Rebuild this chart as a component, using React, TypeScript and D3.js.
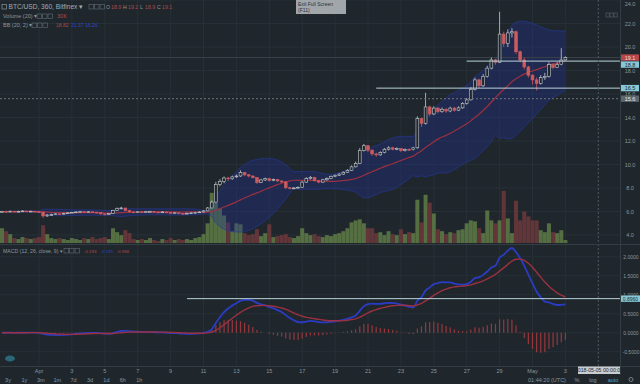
import React from "react";
import * as d3 from "d3";

const closes = [
  6.00,5.98,6.02,5.97,6.01,6.04,5.99,6.02,5.98,5.95,
  5.62,5.70,5.74,5.80,5.78,5.84,5.88,5.93,5.96,5.99,
  5.95,5.98,5.94,5.90,5.80,5.74,5.82,6.08,6.26,6.30,
  6.08,5.96,5.92,5.97,5.94,5.98,6.00,5.95,5.93,5.96,
  5.90,5.86,5.89,5.84,5.80,5.85,5.88,5.92,5.96,6.05,
  6.30,6.80,8.30,8.55,8.85,8.78,8.95,9.02,9.32,9.12,
  9.02,8.88,8.48,8.68,8.80,8.64,8.72,8.60,8.52,8.02,
  7.96,8.00,8.06,8.50,8.80,8.90,8.62,8.50,8.70,8.80,
  8.98,9.08,9.18,9.34,9.50,9.80,10.10,11.20,11.60,11.22,
  10.90,10.82,11.02,11.30,11.42,11.30,11.36,11.18,11.28,11.26,
  11.42,13.90,13.50,14.90,14.30,14.80,14.50,14.70,14.55,14.80,
  14.62,14.82,15.20,15.50,16.40,17.20,16.70,17.50,18.20,18.90,
  18.70,21.10,20.30,21.20,21.30,19.60,18.90,18.30,17.60,17.20,
  16.90,17.40,17.50,18.50,18.25,18.50,18.90,19.10
];
const highs = [
  6.05,6.06,6.08,6.05,6.07,6.10,6.06,6.08,6.05,6.02,
  5.98,5.78,5.82,5.86,5.85,5.90,5.94,5.98,6.02,6.05,
  6.03,6.04,6.01,5.97,5.92,5.84,5.88,6.14,6.34,6.40,
  6.32,6.10,6.00,6.03,6.01,6.04,6.06,6.03,5.99,6.02,
  5.98,5.93,5.95,5.92,5.88,5.91,5.94,5.98,6.02,6.10,
  6.38,6.92,8.52,8.75,8.98,8.95,9.05,9.15,9.50,9.36,
  9.20,9.08,8.92,8.78,8.88,8.85,8.80,8.76,8.66,8.56,
  8.10,8.08,8.14,8.60,8.92,9.02,8.95,8.70,8.78,8.90,
  9.06,9.16,9.28,9.42,9.60,9.92,10.25,11.40,11.75,11.65,
  11.30,11.00,11.12,11.40,11.55,11.50,11.45,11.40,11.36,11.38,
  11.50,14.10,14.00,16.10,15.00,14.95,14.90,14.85,14.80,14.92,
  14.90,14.95,15.30,15.65,16.60,17.40,17.30,17.70,18.40,19.10,
  19.00,23.00,21.30,21.50,21.60,21.40,19.70,19.10,18.40,17.70,
  17.40,17.60,17.80,18.70,18.60,18.70,19.90,19.20
];
const lows = [
  5.92,5.93,5.95,5.92,5.94,5.97,5.93,5.96,5.92,5.88,
  5.45,5.55,5.62,5.70,5.71,5.75,5.80,5.85,5.89,5.92,
  5.89,5.91,5.88,5.83,5.72,5.66,5.70,5.80,6.05,6.18,
  6.02,5.90,5.86,5.89,5.88,5.91,5.93,5.90,5.86,5.89,
  5.84,5.78,5.81,5.76,5.73,5.77,5.80,5.84,5.88,5.93,
  6.02,6.28,6.75,8.15,8.40,8.60,8.70,8.85,8.95,9.00,
  8.90,8.80,8.35,8.42,8.60,8.55,8.58,8.52,8.42,7.90,
  7.88,7.90,7.95,8.00,8.45,8.72,8.55,8.40,8.45,8.62,
  8.75,8.92,9.02,9.12,9.30,9.45,9.75,10.05,11.10,11.05,
  10.75,10.65,10.75,10.95,11.20,11.20,11.22,11.05,11.10,11.15,
  11.20,11.35,13.20,13.40,14.10,14.20,14.35,14.40,14.40,14.45,
  14.50,14.55,14.75,15.10,15.45,16.30,16.50,16.60,17.40,18.10,
  18.50,18.65,20.00,20.00,20.80,19.40,18.70,18.10,17.40,16.80,
  16.30,16.80,17.20,17.40,18.10,18.20,18.45,18.85
];
const volumes = [
  150,120,90,50,40,60,50,40,50,60,
  180,90,50,40,50,40,30,50,40,30,
  50,40,60,40,50,60,40,150,110,80,
  130,100,40,30,40,30,50,30,20,40,
  30,50,30,40,30,40,30,50,60,90,
  200,510,410,350,280,210,120,200,190,100,
  80,90,140,70,100,190,60,70,80,90,
  60,50,70,150,100,80,90,70,60,80,
  70,90,100,120,150,210,230,240,200,150,
  150,100,110,80,120,90,80,140,90,110,
  100,440,210,490,410,300,140,120,90,110,
  100,130,140,200,230,220,150,100,330,230,
  200,230,530,250,100,430,230,320,270,230,
  230,130,110,200,110,100,130,30
];
const firstOpen = 6.0;
const priceTicks = [4, 6, 8, 10, 12, 14, 16, 18, 20, 22, 24];
const macdTicks = [-0.5, 0, 0.5, 1, 1.5, 2];
const rangeButtons = ["3y", "1y", "3m", "1m", "7d", "3d", "1d", "6h", "1h"];
const priceLevels = [18.8, 16.5];
const priceLevelStarts = [Date.UTC(2018, 3, 27, 0), Date.UTC(2018, 3, 21, 12)];
const macdLevel = 0.896;
const macdLevelStart = Date.UTC(2018, 3, 10, 0);
const crossPrice = 15.6;
const crossTime = Date.UTC(2018, 4, 5, 0);

const BG = "#1f272d";
const TXT = "#8b959b";
const FONT = "'Liberation Sans', Arial, sans-serif";

function ema(arr: number[], n: number) {
  const k = 2 / (n + 1);
  let e = arr[0];
  return arr.map((v, i) => (i === 0 ? e : (e = v * k + e * (1 - k))));
}

export default function App() {
  const n = closes.length;
  const DAY = 86400e3;
  const apr1 = Date.UTC(2018, 3, 1);
  const pxPerDay = 16.45;
  const t0 = Date.UTC(2018, 2, 29, 18);
  const times = d3.range(n).map((i) => new Date(t0 + i * 6 * 3600e3));
  const opens = closes.map((c, i) => (i === 0 ? firstOpen : closes[i - 1]));

  const x = d3
    .scaleUtc()
    .domain([new Date(apr1 - (39 / pxPerDay) * DAY), new Date(apr1 + ((620 - 39) / pxPerDay) * DAY)])
    .range([0, 620]);
  const y = d3.scaleLinear().domain([4, 24]).range([235, 0]);
  const yv = d3.scaleLinear().domain([0, 2400]).range([243, 7]);
  const ym = d3.scaleLinear().domain([-0.5, 2]).range([351.7, 256.7]);

  const bb = closes.map((_, i) => {
    const s = closes.slice(Math.max(0, i - 19), i + 1);
    const m = d3.mean(s) as number;
    const sd = Math.sqrt(d3.mean(s, (v) => (v - m) ** 2) as number);
    return { m, u: m + 2 * sd, l: m - 2 * sd };
  });
  const e12 = ema(closes, 12);
  const e26 = ema(closes, 26);
  const macd = closes.map((_, i) => e12[i] - e26[i]);
  const sig = ema(macd, 9);
  const hist = macd.map((v, i) => v - sig[i]);

  const xi = (i: number) => x(times[i]);
  const bandArea = d3
    .area<number>()
    .x((i) => xi(i))
    .y0((i) => y(bb[i].l))
    .y1((i) => y(bb[i].u))
    .curve(d3.curveMonotoneX);
  const lineOf = (f: (i: number) => number, sc: (v: number) => number) =>
    d3
      .line<number>()
      .x((i) => xi(i))
      .y((i) => sc(f(i)))
      .curve(d3.curveMonotoneX);
  const idx = d3.range(n);

  const dayTicks = d3
    .utcDay.range(new Date(apr1), new Date(Date.UTC(2018, 4, 4)))
    .filter((_, i) => i % 2 === 0);
  const fmtTick = (d: Date) => (d.getUTCDate() === 1 ? d3.utcFormat("%b")(d) : String(d.getUTCDate()));

  const last = n - 1;
  const lastClose = closes[last];

  const labels: { v: number; text: string; fill: string; color: string }[] = [
    { v: lastClose, text: lastClose.toFixed(1), fill: "#b8474c", color: "#f3dada" },
    { v: priceLevels[0], text: priceLevels[0].toFixed(1), fill: "#86c8d8", color: "#1c2a30" },
    { v: priceLevels[1], text: priceLevels[1].toFixed(1), fill: "#86c8d8", color: "#1c2a30" },
    { v: crossPrice, text: crossPrice.toFixed(1), fill: "#5d666d", color: "#e6e9eb" },
  ];
  let prev = -100;
  const placed = labels.map((l) => {
    const yy = Math.max(y(l.v), prev + 7);
    prev = yy;
    return { ...l, yy };
  });

  const candleW = 2.8;

  return (
    <svg
      width={640}
      height={384}
      style={{ position: "fixed", left: 0, top: 0, background: BG, fontFamily: FONT }}
    >
      <rect x={0} y={0} width={640} height={384} fill={BG} />
      {dayTicks.map((d, i) => (
        <line key={"vg" + i} x1={x(d)} x2={x(d)} y1={0} y2={366} stroke="#273037" strokeWidth={1} />
      ))}
      {priceTicks.map((p, i) => (
        <line key={"hg" + i} x1={0} x2={620} y1={y(p)} y2={y(p)} stroke="#263037" strokeWidth={1} />
      ))}
      {macdTicks.map((p, i) => (
        <line key={"mg" + i} x1={0} x2={620} y1={ym(p)} y2={ym(p)} stroke="#263037" strokeWidth={1} />
      ))}

      {idx.map((i) => (
        <rect
          key={"v" + i}
          x={xi(i) - 2}
          width={4}
          y={yv(volumes[i])}
          height={243 - yv(volumes[i])}
          fill={closes[i] >= opens[i] ? "#5f7d47" : "#6e3a3c"}
          opacity={0.85}
        />
      ))}

      <path d={bandArea(idx) || ""} fill="#22339a" opacity={0.32} />
      <path d={lineOf((i) => bb[i].u, y)(idx) || ""} fill="none" stroke="#26389e" strokeWidth={1} opacity={0.6} />
      <path d={lineOf((i) => bb[i].l, y)(idx) || ""} fill="none" stroke="#26389e" strokeWidth={1} opacity={0.6} />
      <path d={lineOf((i) => bb[i].m, y)(idx) || ""} fill="none" stroke="#9b3040" strokeWidth={1.2} />

      <line x1={0} x2={620} y1={y(lastClose)} y2={y(lastClose)} stroke="#3a4249" strokeWidth={1} />

      {idx.map((i) => {
        const up = closes[i] >= opens[i];
        const col = up ? "#c5cbcf" : "#cc5b60";
        const hi = Math.max(highs[i], opens[i], closes[i]);
        const lo = Math.min(lows[i], opens[i], closes[i]);
        const top = y(Math.max(opens[i], closes[i]));
        const bot = y(Math.min(opens[i], closes[i]));
        const cx = xi(i);
        return (
          <g key={"c" + i}>
            <line x1={cx} x2={cx} y1={y(hi)} y2={y(lo)} stroke={col} strokeWidth={0.8} />
            <rect
              x={cx - candleW / 2}
              y={top}
              width={candleW}
              height={Math.max(0.8, bot - top)}
              fill={up ? BG : col}
              stroke={col}
              strokeWidth={0.6}
            />
          </g>
        );
      })}

      {priceLevels.map((p, k) => (
        <line
          key={"pl" + k}
          x1={x(new Date(priceLevelStarts[k]))}
          x2={620}
          y1={y(p)}
          y2={y(p)}
          stroke="#b9d3da"
          strokeWidth={1}
        />
      ))}

      <line x1={0} x2={620} y1={y(crossPrice)} y2={y(crossPrice)} stroke="#6b747b" strokeDasharray="2,2" />
      <line x1={x(new Date(crossTime))} x2={x(new Date(crossTime))} y1={0} y2={366} stroke="#4f585f" strokeDasharray="2,2" />

      {idx.map((i) => (
        <rect
          key={"h" + i}
          x={xi(i) - 0.6}
          width={1.2}
          y={Math.min(ym(0), ym(hist[i]))}
          height={Math.abs(ym(hist[i]) - ym(0))}
          fill="#96383e"
        />
      ))}
      <path d={lineOf((i) => macd[i], ym)(idx) || ""} fill="none" stroke="#2a3cc4" strokeWidth={1.8} />
      <path d={lineOf((i) => sig[i], ym)(idx) || ""} fill="none" stroke="#9a3040" strokeWidth={1.4} />
      <line x1={x(new Date(macdLevelStart))} x2={620} y1={ym(macdLevel)} y2={ym(macdLevel)} stroke="#b9d3da" strokeWidth={1} />

      <line x1={0} x2={640} y1={244.5} y2={244.5} stroke="#333d44" strokeWidth={1} />
      <line x1={0} x2={640} y1={366.5} y2={366.5} stroke="#333d44" strokeWidth={1} />
      <line x1={620.5} x2={620.5} y1={0} y2={375} stroke="#333d44" strokeWidth={1} />

      {priceTicks.map((p, i) => (
        <text key={"pt" + i} x={630} y={Math.max(5.5, y(p) + 2)} fontSize={5.5} fill={TXT} textAnchor="middle">
          {p.toFixed(1)}
        </text>
      ))}
      {placed.map((l, i) => (
        <g key={"lb" + i}>
          <rect x={621} y={l.yy - 3.2} width={18} height={6.4} fill={l.fill} />
          <text x={630} y={l.yy + 2} fontSize={5.5} fill={l.color} textAnchor="middle">
            {l.text}
          </text>
        </g>
      ))}
      {macdTicks.map((p, i) => (
        <text key={"mt" + i} x={631} y={ym(p) + 2} fontSize={5} fill={TXT} textAnchor="middle">
          {p.toFixed(4)}
        </text>
      ))}
      <rect x={621} y={ym(macdLevel) - 3.2} width={19} height={6.4} fill="#86c8d8" />
      <text x={630.5} y={ym(macdLevel) + 2} fontSize={5} fill="#1c2a30" textAnchor="middle">
        {macdLevel.toFixed(4)}
      </text>

      {dayTicks.map((d, i) => (
        <text key={"tt" + i} x={x(d)} y={372.5} fontSize={5.5} fill={TXT} textAnchor="middle">
          {fmtTick(d)}
        </text>
      ))}
      <rect x={578} y={366.5} width={42} height={7.5} fill="#c9cdd0" />
      <text x={599} y={372.3} fontSize={5.2} fill="#1f272d" textAnchor="middle">
        {d3.utcFormat("%Y-%m-%d %H:%M:%S")(new Date(crossTime))}
      </text>

      {rangeButtons.map((b, i) => (
        <text key={"rb" + i} x={8 + i * 16.4} y={381.5} fontSize={5.5} fill={TXT} textAnchor="middle">
          {b}
        </text>
      ))}
      <text x={547} y={381.5} fontSize={5.5} fill={TXT} textAnchor="middle">01:44:20 (UTC)</text>
      <text x={577} y={381.5} fontSize={5.5} fill={TXT} textAnchor="middle">%</text>
      <text x={593} y={381.5} fontSize={5.5} fill={TXT} textAnchor="middle">log</text>
      <text x={613} y={381.5} fontSize={5.5} fill="#4aa3c8" textAnchor="middle">auto</text>
      <circle cx={631} cy={379.5} r={2} fill="none" stroke={TXT} strokeWidth={0.8} />

      <ellipse cx={10} cy={358.5} rx={5} ry={3} fill="#2c6f80" opacity={0.9} />

      <rect x={2} y={4.5} width={4.5} height={4.5} fill="none" stroke={TXT} strokeWidth={0.7} />
      <text x={8.5} y={9.3} fontSize={6.6} fill="#a3acb1">BTC/USD, 360, Bitfinex ▾</text>
      {[0, 1, 2].map((k) => (
        <rect key={"ib" + k} x={89 + k * 5.5} y={4.5} width={4.5} height={4.5} fill="none" stroke="#59636a" strokeWidth={0.7} />
      ))}
      {[
        ["O", opens[last]],
        ["H", highs[last]],
        ["L", lows[last]],
        ["C", closes[last]],
      ].map(([k, v], j) => (
        <g key={"ohlc" + j}>
          <text x={106 + j * 17} y={9} fontSize={5.2} fill={TXT}>{k as string}</text>
          <text x={111 + j * 17} y={9} fontSize={5.2} fill="#b2474c">{(v as number).toFixed(1)}</text>
        </g>
      ))}
      <text x={3} y={18} fontSize={5.5} fill={TXT}>Volume (20) ▾</text>
      {[0, 1, 2].map((k) => (
        <rect key={"ib2" + k} x={37 + k * 5.5} y={14} width={4.5} height={4.5} fill="none" stroke="#59636a" strokeWidth={0.7} />
      ))}
      <text x={57} y={18} fontSize={5.5} fill="#b2474c">{volumes[last]}K</text>
      <text x={3} y={27} fontSize={5.5} fill={TXT}>BB (20, 2) ▾</text>
      {[0, 1, 2].map((k) => (
        <rect key={"ib3" + k} x={32 + k * 5.5} y={23} width={4.5} height={4.5} fill="none" stroke="#59636a" strokeWidth={0.7} />
      ))}
      <text x={56} y={27} fontSize={5} fill="#b2474c">{bb[last].m.toFixed(2)}</text>
      <text x={71} y={27} fontSize={5} fill="#2f44c8">
        {bb[last].u.toFixed(2) + " " + bb[last].l.toFixed(2)}
      </text>

      <text x={3} y={252.5} fontSize={5.2} fill={TXT}>MACD (12, 26, close, 9) ▾</text>
      {[0, 1, 2].map((k) => (
        <rect key={"ib4" + k} x={64 + k * 5.5} y={248.5} width={4.5} height={4.5} fill="none" stroke="#59636a" strokeWidth={0.7} />
      ))}
      <text x={84} y={252.5} fontSize={4.4} fill="#b2474c">{hist[last].toFixed(3)}</text>
      <text x={102} y={252.5} fontSize={4.4} fill="#2f44c8">{macd[last].toFixed(3)}</text>
      <text x={118} y={252.5} fontSize={4.4} fill="#b2474c">{sig[last].toFixed(3)}</text>

      {[0, 1, 2].map((k) => (
        <rect key={"tr" + k} x={606 + k * 4} y={13} width={3.2} height={4} fill="none" stroke="#59636a" strokeWidth={0.6} />
      ))}

      <rect x={296} y={0} width={50} height={14} fill="#a9adb1" opacity={0.95} />
      <text x={298} y={6} fontSize={5} fill="#2b3136">Exit Full Screen</text>
      <text x={298} y={12} fontSize={5} fill="#2b3136">(F11)</text>
    </svg>
  );
}
